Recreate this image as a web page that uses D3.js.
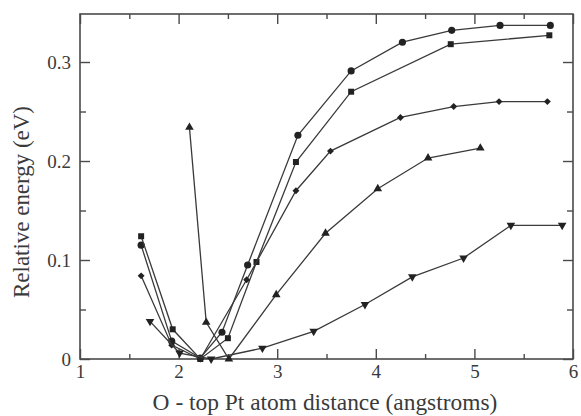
<!DOCTYPE html>
<html>
<head>
<meta charset="utf-8">
<script src="https://cdn.jsdelivr.net/npm/d3@7"></script>
<style>
  svg text { font-family: "Times New Roman", "Liberation Serif", Times, serif !important; }
</style>
</head>
<body style="margin:0">
<script>
// data (distance in angstroms, energy in eV)
const circleX = [1.62, 1.93, 2.22, 2.44, 2.70, 3.21, 3.75, 4.27, 4.77, 5.26, 5.77];
const circleY = [0.115, 0.018, 0.001, 0.027, 0.095, 0.226, 0.291, 0.320, 0.332, 0.337, 0.337];

const squareX = [1.62, 1.94, 2.22, 2.50, 2.79, 3.19, 3.75, 4.76, 5.76];
const squareY = [0.124, 0.030, 0.000, 0.021, 0.098, 0.199, 0.270, 0.318, 0.327];

const diamondX = [1.62, 1.93, 2.22, 2.69, 3.19, 3.54, 4.25, 4.79, 5.25, 5.74];
const diamondY = [0.084, 0.014, 0.000, 0.080, 0.170, 0.210, 0.244, 0.255, 0.260, 0.260];

const triUpX = [2.11, 2.28, 2.51, 2.99, 3.49, 4.02, 4.53, 5.06];
const triUpY = [0.234, 0.037, 0.000, 0.065, 0.127, 0.172, 0.203, 0.213];

const triDownX = [1.71, 2.01, 2.33, 2.85, 3.37, 3.89, 4.37, 4.89, 5.37, 5.89];
const triDownY = [0.038, 0.006, 0.000, 0.011, 0.028, 0.055, 0.083, 0.102, 0.135, 0.135];

const xTicks = [1, 2, 3, 4, 5, 6];
const xMinor = [1.5, 2.5, 3.5, 4.5, 5.5];
const yTicks = [0, 0.1, 0.2, 0.3];
const yMinor = [0.05, 0.15, 0.25];

const width = 581;
const height = 416;
const margin = {left: 80, right: 8, top: 14, bottom: 57};
const fontName = '"Times New Roman", "Liberation Serif", Times, serif';

const x = d3.scaleLinear().domain([1, 6]).range([margin.left, width - margin.right]);
const y = d3.scaleLinear().domain([0, 0.3485]).range([height - margin.bottom, margin.top]);

const svg = d3.select("body").append("svg")
    .attr("width", width)
    .attr("height", height)
    .attr("font-family", fontName);

const ink = "#3a3a3a";

// frame
svg.append("rect")
    .attr("x", x(1)).attr("y", y(0.3485))
    .attr("width", x(6) - x(1)).attr("height", y(0) - y(0.3485))
    .attr("fill", "none").attr("stroke", "#4a4a4a").attr("stroke-width", 1.6);

function styleAxis(g) {
  g.attr("font-family", fontName);
  g.select(".domain").remove();
  g.selectAll("line").attr("stroke", "#4a4a4a").attr("stroke-width", 1.4);
  g.selectAll("text")
      .attr("font-family", fontName)
      .style("font-family", fontName)
      .attr("font-size", 19)
      .attr("fill", ink);
}

// bottom
svg.append("g").attr("transform", `translate(0,${y(0)})`)
    .call(d3.axisBottom(x).tickValues(xTicks).tickSize(-10).tickPadding(6).tickFormat(d3.format("d")))
    .call(styleAxis);
svg.append("g").attr("transform", `translate(0,${y(0)})`)
    .call(d3.axisBottom(x).tickValues(xMinor).tickSize(-5).tickFormat(""))
    .call(styleAxis);
// top
svg.append("g").attr("transform", `translate(0,${y(0.3485)})`)
    .call(d3.axisTop(x).tickValues(xTicks).tickSize(-10).tickFormat(""))
    .call(styleAxis);
svg.append("g").attr("transform", `translate(0,${y(0.3485)})`)
    .call(d3.axisTop(x).tickValues(xMinor).tickSize(-5).tickFormat(""))
    .call(styleAxis);
// left
svg.append("g").attr("transform", `translate(${x(1)},0)`)
    .call(d3.axisLeft(y).tickValues(yTicks).tickSize(-10).tickPadding(9).tickFormat(d => d === 0 ? "0" : d3.format(".1f")(d)))
    .call(styleAxis);
svg.append("g").attr("transform", `translate(${x(1)},0)`)
    .call(d3.axisLeft(y).tickValues(yMinor).tickSize(-6).tickFormat(""))
    .call(styleAxis);
// right
svg.append("g").attr("transform", `translate(${x(6)},0)`)
    .call(d3.axisRight(y).tickValues(yTicks).tickSize(-10).tickFormat(""))
    .call(styleAxis);
svg.append("g").attr("transform", `translate(${x(6)},0)`)
    .call(d3.axisRight(y).tickValues(yMinor).tickSize(-6).tickFormat(""))
    .call(styleAxis);

// axis titles, sized to the width they take in the picture
function fitText(sel, target) {
  const len = sel.node().getComputedTextLength();
  if (len > 0) sel.attr("font-size", 21 * target / len);
}

const xTitle = svg.append("text")
    .attr("x", 325)
    .attr("y", 410)
    .attr("text-anchor", "middle")
    .attr("font-family", fontName)
    .style("font-family", fontName)
    .attr("font-size", 21)
    .attr("fill", ink)
    .text("O - top Pt atom distance (angstroms)");
fitText(xTitle, 345);

const yTitle = svg.append("text")
    .attr("transform", "translate(29,202) rotate(-90)")
    .attr("text-anchor", "middle")
    .attr("font-family", fontName)
    .style("font-family", fontName)
    .attr("font-size", 21)
    .attr("fill", ink)
    .text("Relative energy (eV)");
fitText(yTitle, 192);

// series
const series = [
  {xs: circleX, ys: circleY, sym: d3.symbolCircle, size: 40},
  {xs: squareX, ys: squareY, sym: d3.symbolSquare, size: 36},
  {xs: diamondX, ys: diamondY, sym: d3.symbolSquare, size: 24, rot: 45},
  {xs: triUpX, ys: triUpY, sym: d3.symbolTriangle, size: 32, rot: 0},
  {xs: triDownX, ys: triDownY, sym: d3.symbolTriangle, size: 32, rot: 180}
];

const line = d3.line().x(d => x(d[0])).y(d => y(d[1]));

series.forEach(s => {
  const pts = s.xs.map((v, i) => [v, s.ys[i]]);
  svg.append("path")
      .attr("d", line(pts))
      .attr("fill", "none")
      .attr("stroke", ink)
      .attr("stroke-width", 1.3);
  svg.append("g").selectAll("path")
      .data(pts)
      .join("path")
      .attr("d", d3.symbol().type(s.sym).size(s.size))
      .attr("transform", d => `translate(${x(d[0])},${y(d[1])})` + (s.rot ? ` rotate(${s.rot})` : ""))
      .attr("fill", "#222");
});
</script>
</body>
</html>
